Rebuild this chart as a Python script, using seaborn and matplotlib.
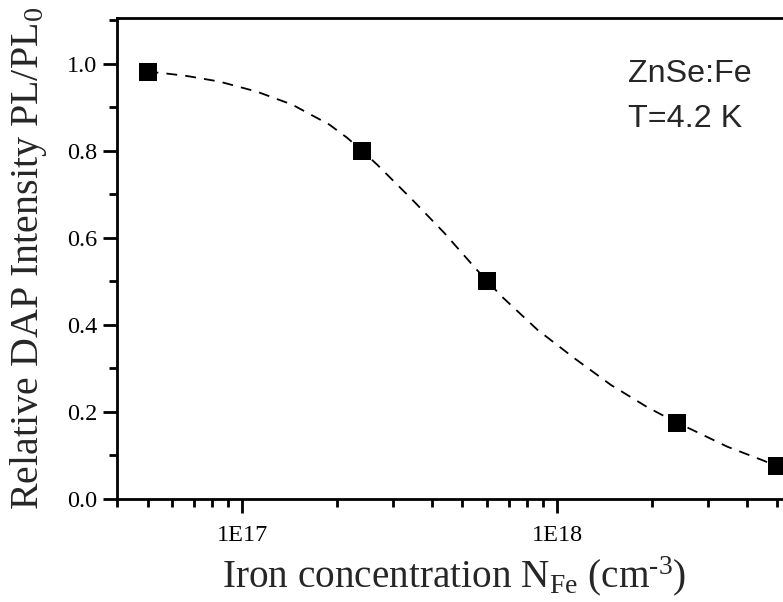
import matplotlib
matplotlib.use("Agg")
import matplotlib.pyplot as plt
import matplotlib.ticker as mticker
import seaborn as sns
import pandas as pd

# measured points
conc = [5.0e16, 2.4e17, 6.0e17, 2.4e18, 5.0e18]
rel_pl = [0.98, 0.80, 0.50, 0.175, 0.075]

# dashed fit curve
fit_conc = [5.0e16, 5.5e16, 6.64e16, 8.45e16, 1.11e17, 1.44e17, 1.89e17, 2.15e17,
            2.4e17, 2.68e17, 3.47e17, 4.38e17, 5.45e17, 6.0e17, 6.69e17, 8.64e17,
            1.13e18, 1.48e18, 1.93e18, 2.4e18, 2.68e18, 3.47e18, 4.45e18, 5.0e18]
fit_rel = [0.981, 0.979, 0.972, 0.959, 0.936, 0.906, 0.860, 0.830,
           0.800, 0.768, 0.687, 0.611, 0.533, 0.500, 0.464, 0.389,
           0.324, 0.262, 0.211, 0.175, 0.159, 0.120, 0.090, 0.075]

y_ticks = [0.0, 0.2, 0.4, 0.6, 0.8, 1.0]
y_tick_labels = ["0.0", "0.2", "0.4", "0.6", "0.8", "1.0"]
x_ticks = [1e17, 1e18]
x_tick_labels = ["1E17", "1E18"]

sns.set_style("ticks")
plt.rcParams["font.family"] = ["Liberation Serif", "DejaVu Serif"]
plt.rcParams["mathtext.fontset"] = "custom"
plt.rcParams["mathtext.rm"] = "Liberation Serif"
plt.rcParams["mathtext.it"] = "Liberation Serif:italic"

df_pts = pd.DataFrame({"N": conc, "PL": rel_pl})
df_fit = pd.DataFrame({"N": fit_conc, "PL": fit_rel})

fig = plt.figure(figsize=(7.83, 6.02), dpi=100)
ax = fig.add_axes([117 / 783, 1 - 499 / 602, 0.9646, 481 / 602])

sns.lineplot(data=df_fit, x="N", y="PL", ax=ax, color="black", lw=1.3,
             linestyle=(0, (6, 4.5)), sort=False)
sns.scatterplot(data=df_pts, x="N", y="PL", ax=ax, marker="s", s=150,
                color="black", edgecolor="black", linewidth=0, zorder=5)

ax.set_xscale("log")
ax.set_xlim(4e16, 1e19)
ax.set_ylim(0, 1.105)

ax.set_xticks(x_ticks)
ax.set_xticklabels(x_tick_labels)
ax.xaxis.set_minor_locator(mticker.LogLocator(base=10, subs=range(2, 10), numticks=20))
ax.xaxis.set_minor_formatter(mticker.NullFormatter())
ax.set_yticks(y_ticks)
ax.set_yticklabels(y_tick_labels)
ax.yaxis.set_minor_locator(mticker.MultipleLocator(0.1))

ax.tick_params(which="major", direction="out", length=10, width=2, labelsize=17.5,
               color="black", labelcolor="black")
ax.tick_params(which="minor", direction="out", length=5.5, width=2, color="black")
ax.tick_params(axis="x", which="major", pad=9)
ax.tick_params(axis="y", which="major", pad=4)

for sp in ax.spines.values():
    sp.set_linewidth(2)
    sp.set_color("black")
ax.spines["right"].set_visible(False)

ax.set_xlabel("Iron concentration N$_{\\mathrm{Fe}}$ (cm$^{\\mathrm{\u2010}\\mathrm{3}}$)", fontsize=28.3)
ax.set_ylabel(r"Relative DAP Intensity PL/PL$_{\mathrm{0}}$", fontsize=28.8)
ax.xaxis.set_label_coords((454 - 117) / 755, (499 - 554) / 481)
ax.xaxis.label.set_va("top")
ax.yaxis.set_label_coords((49 - 117) / 755, 0.5)

fig.text(628 / 783, 1 - 82 / 602, "ZnSe:Fe", fontsize=23.2, family="Liberation Sans",
         va="baseline", ha="left")
fig.text(628 / 783, 1 - 127 / 602, "T=4.2 K", fontsize=23.2, family="Liberation Sans",
         va="baseline", ha="left")

fig.savefig("out.png", dpi=100)
